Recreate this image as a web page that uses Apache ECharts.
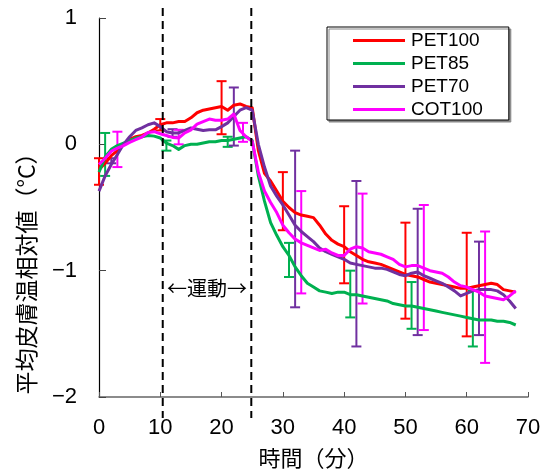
<!DOCTYPE html>
<html><head><meta charset="utf-8">
<script src="https://cdn.jsdelivr.net/npm/echarts@6/dist/echarts.min.js"></script>
<style>html,body{margin:0;padding:0;background:#fff}#c{width:543px;height:472px}</style>
</head><body><div id="c"></div>
<script>
const FONT = '"Liberation Sans", Arial, "Noto Sans CJK JP", sans-serif';
const minutes = Array.from({length: 69}, (_, i) => i);
const seriesNames = ['PET100', 'PET85', 'PET70', 'COT100'];
const colors = ['#ff0000', '#00b050', '#7030a0', '#ff00ff'];
const pet100 = [-0.20,-0.15,-0.09,-0.05,0.00,0.04,0.06,0.07,0.09,0.12,0.155,0.17,0.17,0.18,0.18,0.21,0.25,0.27,0.28,0.29,0.30,0.27,0.31,0.32,0.30,0.29,
  -0.05,-0.23,-0.29,-0.37,-0.45,-0.50,-0.54,-0.56,-0.57,-0.58,-0.64,-0.71,-0.76,-0.79,-0.81,-0.85,-0.88,-0.91,-0.93,-0.94,-0.95,-0.97,-0.99,-1.01,-1.03,-1.04,-1.05,-1.07,-1.09,-1.10,-1.11,-1.12,-1.13,-1.14,-1.14,-1.13,-1.12,-1.11,-1.10,-1.11,-1.15,-1.16,-1.17];
const pet85 = [-0.22,-0.10,-0.04,-0.01,0.01,0.03,0.05,0.06,0.07,0.065,0.05,0.01,-0.01,-0.04,-0.01,0.00,0.00,0.01,0.02,0.02,0.03,0.03,0.04,0.05,0.06,0.03,
  -0.25,-0.45,-0.62,-0.72,-0.81,-0.88,-0.97,-1.04,-1.10,-1.13,-1.16,-1.17,-1.18,-1.17,-1.17,-1.19,-1.19,-1.20,-1.21,-1.22,-1.23,-1.24,-1.26,-1.27,-1.28,-1.28,-1.29,-1.30,-1.31,-1.32,-1.33,-1.34,-1.35,-1.36,-1.37,-1.38,-1.39,-1.39,-1.39,-1.40,-1.40,-1.41,-1.43];
const pet70 = [-0.37,-0.25,-0.16,-0.08,0.00,0.06,0.11,0.13,0.155,0.17,0.14,0.10,0.09,0.09,0.11,0.13,0.12,0.11,0.115,0.115,0.14,0.17,0.22,0.27,0.29,0.27,
  0.00,-0.18,-0.33,-0.41,-0.48,-0.56,-0.64,-0.69,-0.73,-0.77,-0.82,-0.85,-0.87,-0.89,-0.91,-0.94,-0.95,-0.96,-0.97,-0.98,-0.98,-0.99,-1.01,-1.03,-1.04,-1.02,-1.01,-1.04,-1.06,-1.08,-1.10,-1.13,-1.16,-1.20,-1.18,-1.16,-1.15,-1.15,-1.15,-1.16,-1.19,-1.24,-1.30];
const cot100 = [-0.16,-0.11,-0.055,-0.03,-0.01,0.016,0.037,0.058,0.094,0.10,0.084,0.07,0.055,0.05,0.09,0.115,0.16,0.18,0.20,0.19,0.19,0.20,0.24,0.11,0.06,0.024,
  -0.22,-0.37,-0.46,-0.54,-0.64,-0.70,-0.75,-0.78,-0.80,-0.82,-0.84,-0.83,-0.86,-0.88,-0.88,-0.83,-0.81,-0.82,-0.85,-0.86,-0.87,-0.89,-0.91,-0.95,-0.97,-0.96,-0.96,-0.98,-1.00,-1.01,-1.02,-1.05,-1.09,-1.12,-1.13,-1.15,-1.17,-1.20,-1.21,-1.22,-1.23,-1.20,-1.16];
// error bars: [minute, low, high]
const pet100Err = [[0,-0.32,-0.11],[10,0.11,0.20],[20,0.08,0.50],[30,-0.68,-0.22],[40,-1.10,-0.49],[50,-1.38,-0.62],[60,-1.52,-0.70]];
const pet85Err = [[1,-0.25,0.09],[11,-0.05,0.03],[21,-0.02,0.06],[31,-1.05,-0.78],[41,-1.37,-1.00],[51,-1.46,-1.09],[61,-1.60,-1.16]];
const pet70Err = [[2,-0.15,-0.11],[12,0.06,0.12],[22,-0.01,0.45],[32,-1.29,-0.05],[42,-1.60,-0.29],[52,-1.51,-0.51],[62,-1.51,-0.77]];
const cot100Err = [[3,-0.18,0.10],[13,0.00,0.115],[23.5,0.02,0.17],[33,-1.18,-0.37],[43,-1.26,-0.39],[53,-1.47,-0.48],[63,-1.73,-0.69]];
const exerciseMarks = [10.4, 24.85];
const exerciseLabel = '←運動→';
const xTicks = {min: 0, max: 70, interval: 10};
const yTicks = {min: -2, max: 1, interval: 1};

const lines = [pet100, pet85, pet70, cot100];
const errs = [pet100Err, pet85Err, pet70Err, cot100Err];

function errRender(color) {
  return function (params, api) {
    const x = api.value(0), lo = api.value(1), hi = api.value(2);
    const a = api.coord([x, lo]), b = api.coord([x, hi]);
    const w = 5;
    const st = {stroke: color, lineWidth: 2};
    return {type: 'group', children: [
      {type: 'line', shape: {x1: a[0], y1: a[1], x2: b[0], y2: b[1]}, style: st},
      {type: 'line', shape: {x1: a[0]-w, y1: a[1], x2: a[0]+w, y2: a[1]}, style: st},
      {type: 'line', shape: {x1: b[0]-w, y1: b[1], x2: b[0]+w, y2: b[1]}, style: st}
    ]};
  };
}

const series = [];
errs.forEach((e, i) => {
  series.push({name: seriesNames[i] + '_err', type: 'custom', renderItem: errRender(colors[i]), data: e, z: 3, silent: true});
});
lines.forEach((d, i) => {
  series.push({name: seriesNames[i], type: 'line', data: minutes.map((t, k) => [t, d[k]]), showSymbol: false, symbol: 'none',
    lineStyle: {color: colors[i], width: 3, join: 'round'}, itemStyle: {color: colors[i]}, z: 4, animation: false});
});

const chart = echarts.init(document.getElementById('c'), null, {renderer: 'canvas'});
const minus = v => String(v).replace('-', '−');
chart.setOption({
  animation: false,
  backgroundColor: '#fff',
  textStyle: {fontFamily: FONT},
  grid: {left: 99, right: 15, top: 18, bottom: 75, containLabel: false, outerBoundsMode: 'none'},
  legend: {
    data: seriesNames, orient: 'vertical', left: 327, top: 27,
    icon: 'rect', itemWidth: 52, itemHeight: 3, itemGap: 4,
    padding: [4, 26, 1, 26],
    borderColor: '#000', borderWidth: 1, backgroundColor: '#fff',
    shadowColor: '#888', shadowOffsetX: 2, shadowOffsetY: 2, shadowBlur: 0,
    textStyle: {fontSize: 19, color: '#000', fontFamily: FONT, padding: [0, 0, 0, 1]},
    selectedMode: false
  },
  xAxis: {
    type: 'value', min: xTicks.min, max: xTicks.max, interval: xTicks.interval,
    name: '時間（分）', nameLocation: 'middle', nameGap: 52,
    nameTextStyle: {fontSize: 22, color: '#000', fontFamily: FONT},
    axisLine: {onZero: false, lineStyle: {color: '#666', width: 1.5}},
    axisTick: {inside: true, length: 5, lineStyle: {color: '#555'}},
    axisLabel: {fontSize: 22, color: '#000', margin: 20, fontFamily: FONT},
    splitLine: {show: false}
  },
  yAxis: {
    type: 'value', min: yTicks.min, max: yTicks.max, interval: yTicks.interval,
    axisLine: {show: true, onZero: false, lineStyle: {color: '#000', width: 1.2}},
    axisTick: {inside: true, length: 7, lineStyle: {color: '#444'}},
    axisLabel: {fontSize: 22, color: '#000', margin: 22, fontFamily: FONT, formatter: minus},
    splitLine: {show: false}
  },
  series: series
});

const gfx = [];
exerciseMarks.forEach(m => {
  const x = chart.convertToPixel({xAxisIndex: 0}, m);
  gfx.push({type: 'line', shape: {x1: x, y1: 8, x2: x, y2: 418}, style: {stroke: '#000', lineWidth: 2, lineDash: [8, 5]}, z: 10});
});
const midX = chart.convertToPixel({xAxisIndex: 0}, (exerciseMarks[0] + exerciseMarks[1]) / 2);
const labY = chart.convertToPixel({yAxisIndex: 0}, -1.14);
gfx.push({type: 'text', x: midX, y: labY, style: {text: exerciseLabel, fontSize: 20, fill: '#000', align: 'center', verticalAlign: 'middle', fontFamily: '"Noto Sans CJK JP", sans-serif'}, z: 10});
gfx.push({type: 'text', x: 26, y: 268, rotation: Math.PI / 2, style: {text: '平均皮膚温相対値（°C）', fontSize: 23, fill: '#000', align: 'center', verticalAlign: 'middle', fontFamily: '"Noto Sans CJK JP", sans-serif'}, z: 10});
chart.setOption({graphic: gfx});
</script>
</body></html>
